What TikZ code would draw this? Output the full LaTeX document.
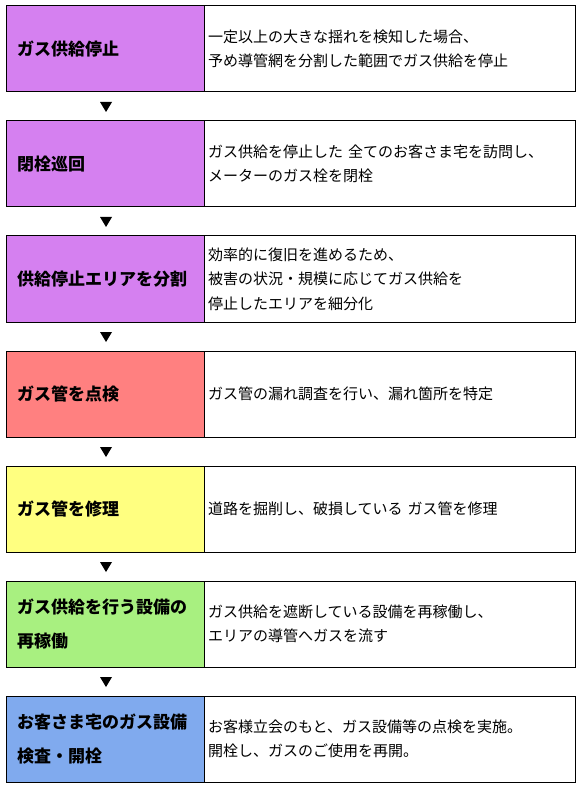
\documentclass[tikz,border=0pt]{standalone}
\usepackage{fontspec}
\setmainfont{Noto Sans CJK JP}
\usetikzlibrary{positioning,calc}

\definecolor{stopviolet}{RGB}{213,128,240}
\definecolor{checkred}{RGB}{255,128,128}
\definecolor{repairyellow}{RGB}{255,255,128}
\definecolor{restartgreen}{RGB}{168,240,128}
\definecolor{openblue}{RGB}{128,170,238}

\begin{document}
\begin{tikzpicture}[x=1pt,y=-1pt,
    title/.style={draw=black,line width=1pt,outer sep=0pt,anchor=north west,
      minimum width=198pt,minimum height=86pt,text width=176pt,inner xsep=11pt,
      align=left,font=\fontsize{17}{34}\selectfont\bfseries},
    detail/.style={draw=black,line width=1pt,outer sep=0pt,fill=white,
      minimum width=371pt,minimum height=86pt,text width=363pt,inner xsep=4pt,
      align=left,font=\fontsize{15}{24.5}\selectfont},
    down/.style={fill=black}
  ]
  \useasboundingbox (0,0) rectangle (582,791);

  % 1st step
  \node[title,fill=stopviolet] (st1) at (6,6) {ガス供給停止};
  \node[detail,right=0pt of st1] (de1) {一定以上の大きな揺れを検知した場合、\\予め導管網を分割した範囲でガス供給を停止};

  % 2nd step
  \node[title,fill=stopviolet] (st2) at (6,121) {閉栓巡回};
  \node[detail,right=0pt of st2] (de2) {ガス供給を停止した 全てのお客さま宅を訪問し、\\メーターのガス栓を閉栓};

  % 3rd step
  \node[title,fill=stopviolet] (st3) at (6,236) {供給停止エリアを分割};
  \node[detail,right=0pt of st3] (de3) {効率的に復旧を進めるため、\\被害の状況・規模に応じてガス供給を\\停止したエリアを細分化};

  % 4th step
  \node[title,fill=checkred] (st4) at (6,351) {ガス管を点検};
  \node[detail,right=0pt of st4] (de4) {ガス管の漏れ調査を行い、漏れ箇所を特定};

  % 5th step
  \node[title,fill=repairyellow] (st5) at (6,466) {ガス管を修理};
  \node[detail,right=0pt of st5] (de5) {道路を掘削し、破損している ガス管を修理};

  % 6th step
  \node[title,fill=restartgreen] (st6) at (6,581) {ガス供給を行う設備の\\再稼働};
  \node[detail,right=0pt of st6] (de6) {ガス供給を遮断している設備を再稼働し、\\エリアの導管へガスを流す};

  % 7th step
  \node[title,fill=openblue] (st7) at (6,696) {お客さま宅のガス設備\\検査・開栓};
  \node[detail,right=0pt of st7] (de7) {お客様立会のもと、ガス設備等の点検を実施。\\開栓し、ガスのご使用を再開。};

  % arrows between steps
  \fill[down] ($(st1.south)!0.5!(st2.north)$) ++(-5,-4.5) -- ++(12,0) -- ++(-6,10) -- cycle;
  \fill[down] ($(st2.south)!0.5!(st3.north)$) ++(-5,-4.5) -- ++(12,0) -- ++(-6,10) -- cycle;
  \fill[down] ($(st3.south)!0.5!(st4.north)$) ++(-5,-4.5) -- ++(12,0) -- ++(-6,10) -- cycle;
  \fill[down] ($(st4.south)!0.5!(st5.north)$) ++(-5,-4.5) -- ++(12,0) -- ++(-6,10) -- cycle;
  \fill[down] ($(st5.south)!0.5!(st6.north)$) ++(-5,-4.5) -- ++(12,0) -- ++(-6,10) -- cycle;
  \fill[down] ($(st6.south)!0.5!(st7.north)$) ++(-5,-4.5) -- ++(12,0) -- ++(-6,10) -- cycle;
\end{tikzpicture}
\end{document}
